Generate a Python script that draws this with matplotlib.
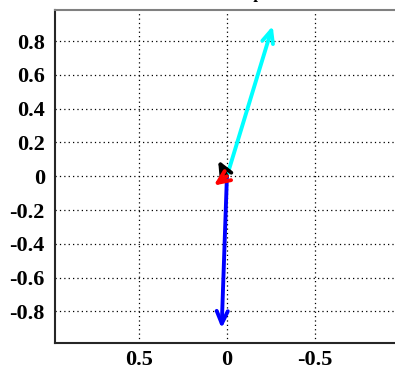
import matplotlib
matplotlib.use("Agg")
import matplotlib.pyplot as plt

# Vector components (real, imaginary) for each arrow
u = [-0.26, 0.03, 0.05, 0.075]
v = [0.89, -0.90, 0.095, -0.055]
colors = ["#00ffff", "#0000ff", "#000000", "#ff0000"]

xticks = [0.5, 0, -0.5]
yticks = [-0.8, -0.6, -0.4, -0.2, 0, 0.2, 0.4, 0.6, 0.8]

plt.rcParams["font.family"] = "Liberation Serif"
plt.rcParams["font.weight"] = "bold"

fig = plt.figure(figsize=(3.95, 3.69), dpi=100)
ax = fig.add_axes([0.138, 0.0713, 0.873, 0.902])

for x, y, c in zip(u, v, colors):
    ax.annotate("", xy=(x, y), xytext=(0, 0),
                arrowprops=dict(arrowstyle="->,head_length=0.9,head_width=0.4",
                                color=c, lw=2.8, shrinkA=0, shrinkB=0))

ax.set_xlim(0.98, -0.98)
ax.set_ylim(-0.985, 0.985)
ax.set_xticks(xticks)
ax.set_xticklabels(["0.5", "0", "-0.5"])
ax.set_yticks(yticks)
ax.set_yticklabels([f"{t:g}" for t in yticks])
ax.tick_params(length=0, labelsize=16)
ax.tick_params(axis="y", pad=7)
ax.tick_params(axis="x", pad=5)

ax.grid(True, color="black", linestyle=(0, (1, 2.5)), linewidth=0.9)

ax.spines["left"].set_color("#262626")
ax.spines["bottom"].set_color("#262626")
ax.spines["top"].set_color("#808080")
ax.spines["right"].set_color("#808080")
for s in ax.spines.values():
    s.set_linewidth(1.5)

fig.text(0.575, 1.005, "Mode shape", ha="center", va="baseline",
         fontsize=12, fontweight="bold")

fig.savefig("out.png", dpi=100)
